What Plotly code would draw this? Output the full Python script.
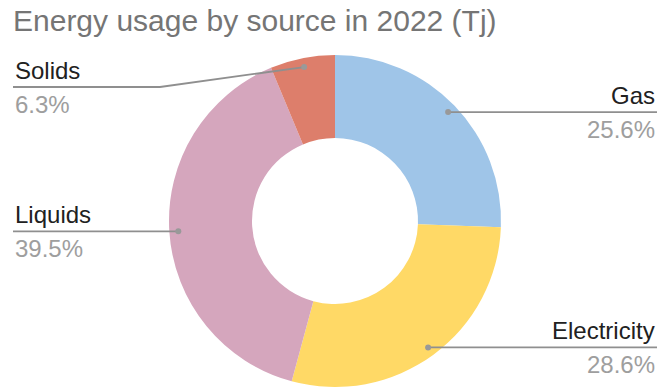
import math
import plotly.graph_objects as go

# Energy usage shares by source, 2022
sources = ["Gas", "Electricity", "Liquids", "Solids"]
shares = [25.6, 28.6, 39.5, 6.3]
colors = ["#9fc5e8", "#ffd966", "#d5a6bd", "#dd7e6b"]

W, H = 660, 387
FONT = "Liberation Sans, Arial, sans-serif"

# donut geometry in pixels
cx, cy, R = 335, 221, 166
dot_r = 0.946 * R
edge_left, edge_right = 13, 657
min_row_y = 87
elbow_x = 160


def px(x):
    return x / W


def py(y):
    return 1 - y / H


fig = go.Figure(
    go.Pie(
        labels=sources,
        values=shares,
        hole=0.5,
        sort=False,
        direction="clockwise",
        rotation=0,
        marker=dict(colors=colors, line=dict(width=0)),
        textinfo="none",
        hoverinfo="label+percent",
        domain=dict(x=[px(cx - R), px(cx + R)], y=[py(cy + R), py(cy - R)]),
        showlegend=False,
    )
)

shapes = []
annotations = []
total = sum(shares)
acc = 0.0
for name, val in zip(sources, shares):
    mid = (acc + val / 2) / total * 2 * math.pi
    acc += val
    dx = cx + dot_r * math.sin(mid)
    dy = cy - dot_r * math.cos(mid)
    right = math.sin(mid) >= 0
    row_y = max(dy, min_row_y)
    end_x = edge_right if right else edge_left
    pts = [(dx, dy)]
    if row_y != dy:
        pts.append((elbow_x, row_y))
    pts.append((end_x, row_y))
    path = "M " + " L ".join(f"{px(x)},{py(y)}" for x, y in pts)
    shapes.append(dict(type="path", xref="paper", yref="paper", path=path,
                       line=dict(color="#8f8f8f", width=1.8)))
    shapes.append(dict(type="circle", xref="paper", yref="paper",
                       x0=px(dx - 3), x1=px(dx + 3), y0=py(dy + 3), y1=py(dy - 3),
                       fillcolor="#999999", line=dict(width=0)))
    anchor = "right" if right else "left"
    annotations.append(dict(text=name, xref="paper", yref="paper",
                            x=px(end_x), y=py(row_y - 1), xanchor=anchor, yanchor="bottom",
                            showarrow=False, font=dict(family=FONT, size=24, color="#212121")))
    annotations.append(dict(text=f"{val:.1f}%", xref="paper", yref="paper",
                            x=px(end_x), y=py(row_y + 2), xanchor=anchor, yanchor="top",
                            showarrow=False, font=dict(family=FONT, size=24, color="#9e9e9e")))

fig.update_layout(
    width=W,
    height=H,
    margin=dict(l=0, r=0, t=0, b=0),
    paper_bgcolor="white",
    plot_bgcolor="white",
    title=dict(text="Energy usage by source in 2022 (Tj)", x=px(13), xanchor="left",
               y=py(20), yanchor="middle", xref="paper", yref="paper",
               font=dict(family=FONT, size=30, color="#757575")),
    shapes=shapes,
    annotations=annotations,
)

fig.write_html("out.html")
